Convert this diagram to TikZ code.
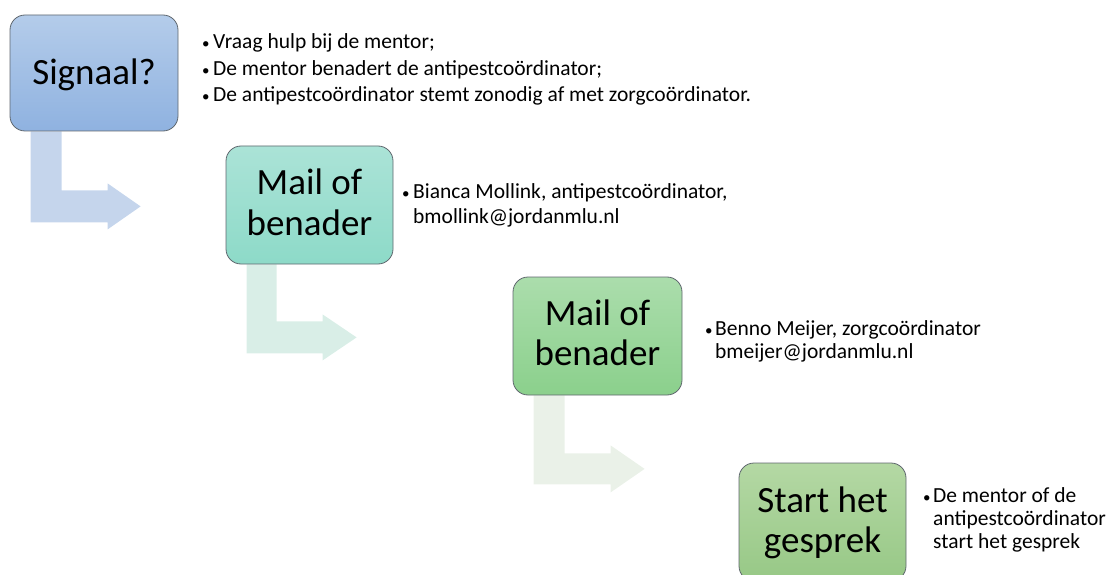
\documentclass[tikz,border=0pt]{standalone}
\usepackage{fontspec}
\setmainfont{Carlito}
\usetikzlibrary{calc,backgrounds}
\definecolor{bAtop}{HTML}{B4CCEA}
\definecolor{bAbot}{HTML}{8FB2E0}
\definecolor{bBtop}{HTML}{ABE3D7}
\definecolor{bBbot}{HTML}{8DDAC8}
\definecolor{bCtop}{HTML}{ABDDAC}
\definecolor{bCbot}{HTML}{8BD08C}
\definecolor{bDtop}{HTML}{B4D8A4}
\definecolor{bDbot}{HTML}{97C886}
\definecolor{arA}{HTML}{C5D5EC}
\definecolor{arB}{HTML}{D9EEE7}
\definecolor{arC}{HTML}{EAF1E8}
\definecolor{boxline}{HTML}{5F676E}
\begin{document}
\begin{tikzpicture}[x=1pt,y=-1pt,
  stepbox/.style={draw=boxline, line width=0.8pt, rounded corners=15pt, inner sep=0pt},
  boxtxt/.style={font=\fontsize{37}{40}\selectfont, anchor=base, inner sep=0pt},
  bul/.style={font=\fontsize{21.5}{24}\selectfont, anchor=base west, inner sep=0pt},
  dot/.style={font=\fontsize{15}{15}\selectfont, anchor=base west, inner sep=0pt}]
\useasboundingbox (0,0) rectangle (1112,575);
\clip (0,0) rectangle (1112,575);

% boxes
\node[stepbox, top color=bAtop, bottom color=bAbot, minimum width=168pt, minimum height=116pt] (b1) at (94,73) {};
\node[stepbox, top color=bBtop, bottom color=bBbot, minimum width=167pt, minimum height=118pt] (b2) at (309.5,205) {};
\node[stepbox, top color=bCtop, bottom color=bCbot, minimum width=169pt, minimum height=118pt] (b3) at (597.5,336) {};
\node[stepbox, top color=bDtop, bottom color=bDbot, minimum width=167pt, minimum height=118pt] (b4) at (822.5,522) {};

% box texts
\node[boxtxt] (t1) at (94,85) {Signaal?};
\node[boxtxt] (t2a) at (309.5,195) {Mail of};
\node[boxtxt] (t2b) at (309.5,235) {benader};
\node[boxtxt] (t3a) at (597.5,325) {Mail of};
\node[boxtxt] (t3b) at (597.5,365) {benader};
\node[boxtxt] (t4a) at (822.5,512) {Start het};
\node[boxtxt] (t4b) at (822.5,552) {gesprek};

% bent arrows
\begin{scope}[on background layer]
\fill[arA] ($(b1.south west)+(21,0)$) coordinate (a1s) -- ++(31,0) -- ++(0,59) -- ++(46,0) -- ++(0,-7)
  -- ++(33,23) -- ++(-33,23) -- ++(0,-7) -- ++(-77,0) -- cycle;
\fill[arB] ($(b2.south west)+(21,0)$) coordinate (a2s) -- ++(30,0) -- ++(0,57) -- ++(46,0) -- ++(0,-7)
  -- ++(34,23) -- ++(-34,23) -- ++(0,-7) -- ++(-76,0) -- cycle;
\fill[arC] ($(b3.south west)+(21,0)$) coordinate (a3s) -- ++(31,0) -- ++(0,58) -- ++(46,0) -- ++(0,-8)
  -- ++(34,23.5) -- ++(-34,23.5) -- ++(0,-8) -- ++(-77,0) -- cycle;
\end{scope}

% bullet lists
\node[dot] (p1a) at (202,49) {•};
\node[bul] (q1a) at (213,49) {Vraag hulp bij de mentor;};
\node[dot] (p1b) at (202,76) {•};
\node[bul] (q1b) at (213,76) {De mentor benadert de antipestcoördinator;};
\node[dot] (p1c) at (202,102) {•};
\node[bul] (q1c) at (213,102) {De antipestcoördinator stemt zonodig af met zorgcoördinator.};

\node[dot] (p2a) at (402,199) {•};
\node[bul] (q2a) at (413,199) {Bianca Mollink, antipestcoördinator,};
\node[bul] (q2b) at (413,223) {bmollink@jordanmlu.nl};

\node[dot] (p3a) at (705,335) {•};
\node[bul] (q3a) at (715,335) {Benno Meijer, zorgcoördinator};
\node[bul] (q3b) at (715,358) {bmeijer@jordanmlu.nl};

\node[dot] (p4a) at (923,502) {•};
\node[bul] (q4a) at (933,502) {De mentor of de};
\node[bul] (q4b) at (933,525) {antipestcoördinator};
\node[bul] (q4c) at (933,548) {start het gesprek};
\end{tikzpicture}
\end{document}
